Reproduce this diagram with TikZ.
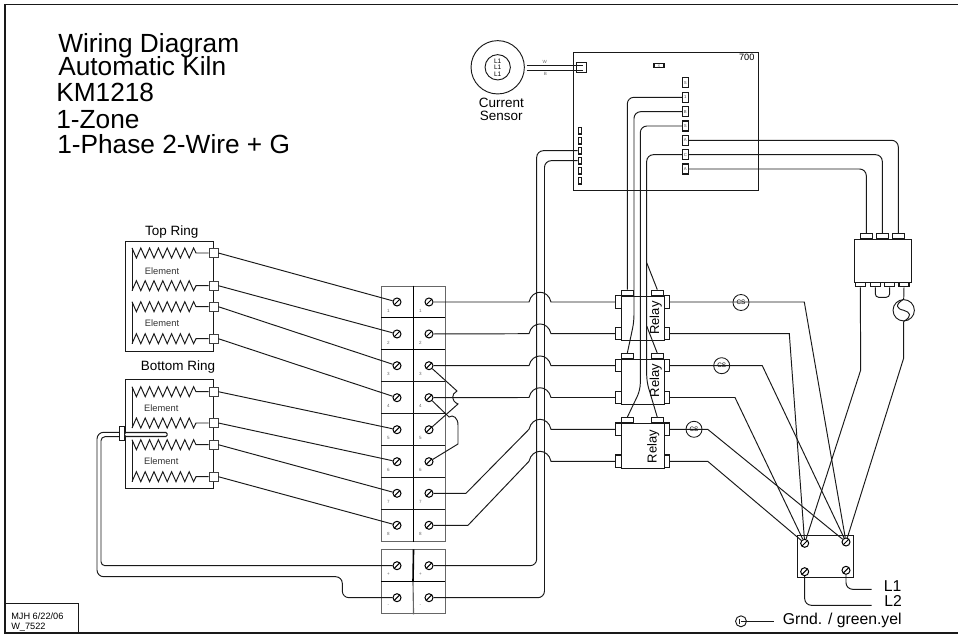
\documentclass[tikz,border=0pt]{standalone}
\usepackage{fontspec}
\setmainfont{Liberation Sans}
\usepackage{xparse}
\usetikzlibrary{calc,positioning}

\begin{document}
\begin{tikzpicture}[x=0.75pt,y=-0.75pt]

  % Parameters
  \def\xcoil{132}
  \def\xhop{529}
  \def\xhopend{551}

  % Styles
  \tikzstyle{wire}=[line width=0.72pt,black!90]
  \tikzstyle{edge}=[line width=0.85pt,black!90]
  \tikzstyle{box}=[draw=black!90,line width=0.8pt,inner sep=0pt]
  \tikzstyle{padbox}=[box,fill=white]
  \tikzstyle{coilpad}=[padbox,draw=black!75,line width=0.6pt,minimum width=6.6pt,minimum height=6.6pt]
  \tikzstyle{sidepad}=[padbox,minimum width=4pt,minimum height=9.4pt]
  \tikzstyle{toppad}=[padbox,anchor=south,minimum width=9.2pt,minimum height=3.75pt]
  \tikzstyle{conn}=[padbox,minimum width=4.2pt,minimum height=7.5pt,font=\fontsize{3.2}{3.2}\selectfont,text=black!70]
  \tikzstyle{lconn}=[padbox,minimum width=2.6pt,minimum height=5pt]
  \tikzstyle{screw}=[circle,draw=black,line width=0.75pt,fill=white,inner sep=0pt,minimum size=6pt,
    path picture={\draw[line width=0.75pt,black] (path picture bounding box.south west) -- (path picture bounding box.north east);}]
  \tikzstyle{tiny}=[inner sep=0pt,text=black!60,font=\fontsize{3.4}{3.4}\selectfont]
  \tikzstyle{csring}=[circle,draw=black!90,line width=0.65pt,inner sep=0pt,minimum size=12pt,font=\fontsize{4.8}{4.8}\selectfont]
  \tikzstyle{heading}=[anchor=base west,inner sep=0pt,font=\fontsize{19.7}{19.7}\selectfont]
  \tikzstyle{label}=[inner sep=0pt,font=\fontsize{10.1}{9.6}\selectfont,align=center]
  \tikzstyle{small}=[inner sep=0pt,font=\fontsize{7}{7}\selectfont]
  \tikzstyle{mains}=[anchor=base west,inner sep=0pt,font=\fontsize{11.8}{11.8}\selectfont]

  % \coil{<pad>}{<y>}{<sign of first point>}
  \DeclareDocumentCommand \coil { m m m }{%
    \draw[wire] (\xcoil,{#2+#3*5}) \foreach \k in {1,...,14} { -- ({\xcoil+\k*4.4},{#2+#3*5*(1-2*mod(\k,2))}) } -- (196,#2) -- (#1.west);
  }

  % \hop{<y>}
  \def\hop#1{-- (\xhop,#1) .. controls (532,#1-13) and (548,#1-13) .. (\xhopend,#1)}

  % ===========================================================================

  \useasboundingbox (0,0) rectangle (958,634);

  % Sheet and stamp
  \draw[edge] (958,4.5) -- (5,4.5) -- (5,633) -- (958,633);
  \node[box,anchor=south west,minimum width=54.5pt,minimum height=21.5pt] (stamp) at (5,633) {};
  \node[anchor=base west,inner sep=0pt,align=left,font=\fontsize{6.9}{7.7}\selectfont] (stamp-txt) at (11,629.5) {MJH  6/22/06\\W\_7522};

  % Title
  \node[heading] (title-1) at (58,52.7) {Wiring Diagram};
  \node[heading] (title-2) at (58,76) {Automatic Kiln};
  \node[heading] (title-3) at (56,101.7) {KM1218};
  \node[heading] (title-4) at (56,129) {1-Zone};
  \node[heading] (title-5) at (57,153.3) {1-Phase 2-Wire + G};

  % Rings
  \node[box,anchor=north west,minimum width=66.4pt,minimum height=82.3pt] (ring-top) at (124.5,241) {};
  \node[box,anchor=north west,minimum width=66.4pt,minimum height=81.8pt] (ring-bot) at (124.5,379) {};
  \node[label] (ring-top-txt) at (171.7,231.7) {Top Ring};
  \node[label] (ring-bot-txt) at (178,366.7) {Bottom Ring};
  \foreach \n/\x/\y in {1/162/270.7,2/162/322.7,3/161.3/407.7,4/161.3/460.7}
    \node[small,text=black!80] (elem-\n) at (\x,\y) {Element};
  \foreach \n/\y in {1/253,2/285.7,3/306.7,4/338.7,5/391.7,6/423,7/444.7,8/476.7}
    \node[coilpad] (cp-\n) at (213.5,\y) {};
  \coil{cp-1}{253}{-1}
  \coil{cp-2}{285.7}{1}
  \coil{cp-3}{306.7}{-1}
  \coil{cp-4}{338.7}{1}
  \coil{cp-5}{391.7}{-1}
  \coil{cp-6}{423}{1}
  \coil{cp-7}{444.7}{-1}
  \coil{cp-8}{476.7}{1}
  \draw[wire] (\xcoil,248) -- (\xcoil,290.7);
  \draw[wire] (\xcoil,301.7) -- (\xcoil,343.7);
  \draw[wire] (\xcoil,386.7) -- (\xcoil,428);
  \draw[wire] (\xcoil,439.7) -- (\xcoil,481.7);

  % Terminal blocks
  \node[box,draw=black!60,anchor=north west,minimum width=48pt,minimum height=191.6pt] (block-a) at (381,285.7) {};
  \node[box,draw=black!60,anchor=north west,minimum width=48pt,minimum height=48pt] (block-b) at (381,549.3) {};
  \draw[line width=1.2pt] (block-a.north) -- (block-a.south);
  \draw[line width=1.2pt] (block-b.north) -- (413,581.7);
  \draw[edge,black!60] (413,581.7) -- (block-b.south);
  \foreach \y in {317.7,349.7}
    \draw[line width=1.1pt] (381,\y) -- (445,\y);
  \foreach \y in {381.7,413.5,445.5,477.5,509.5}
    \draw[wire] (381,\y) -- (445,\y);
  \draw[line width=1pt] (381,581.7) -- (445,581.7);
  \foreach \n/\y in {1/302,2/334,3/365.7,4/397.7,5/429.7,6/461.7,7/493.3,8/525.3,9/565.7,10/597.7} {
    \node[screw] (tb-l\n) at (397,\y) {};
    \node[screw] (tb-r\n) at (429,\y) {};
  }
  \foreach \n/\y/\t in {1/310.5/1,2/342.5/2,3/374/3,4/406/4,5/438/5,6/470/6,7/501.5/7,8/533.5/8,9/574/+,10/606/-} {
    \node[tiny] (num-l\n) at (388.5,\y) {\t};
    \node[tiny] (num-r\n) at (420.5,\y) {\t};
  }

  % Ring to block
  \foreach \n in {1,...,8}
    \draw[wire] (cp-\n.east) -- (tb-l\n);

  % Links on the block
  \draw[wire] (tb-r3) -- (457,391) .. controls (451,394) and (451,401) .. (458,404) -- (tb-r5);
  \draw[wire] (tb-r4) -- (449,417) .. controls (453,414) and (458,418) .. (458,425) -- (458,444) -- (tb-r6);

  % Control board
  \node[box,anchor=north west,minimum width=138.3pt,minimum height=103.8pt] (board) at (573.3,51.7) {};
  \node[inner sep=0pt,font=\fontsize{6.9}{6.9}\selectfont] (board-txt) at (746.7,57.7) {700};
  \node[padbox,minimum width=7.5pt,minimum height=3pt,font=\fontsize{3}{3}\selectfont,text=black!60] (board-x) at (659,65.7) {X};
  \foreach \n/\y/\t in {1/82.7/S,2/97.3/1,3/111.7/B,4/126/S,5/140.3/A,6/154.7/C,7/169/A}
    \node[conn] (conn-\n) at (685.3,\y) {\t};
  \foreach \n/\y in {1/130.7,2/140.7,3/150.7,4/160.7,5/170.7,6/180.7}
    \node[lconn] (lconn-\n) at (580,\y) {};

  % Current sensor
  \node[circle,draw=black!90,line width=0.7pt,minimum size=40pt,inner sep=0pt] (sensor) at (497.7,67.3) {};
  \node[circle,draw=black!90,line width=0.7pt,minimum size=19pt,inner sep=0pt,align=center,font=\fontsize{4.9}{4.9}\selectfont] (sensor-in) at (497.7,67.3) {L1\\L1\\L1};
  \node[label] (sensor-txt) at (501.3,109.5) {Current\\Sensor};
  \node[padbox,minimum width=7.5pt,minimum height=7.5pt] (sensor-conn) at (581.7,67.7) {};
  \draw[wire] (526.7,65) -- (583,65);
  \draw[wire] (526.7,70) -- (583,70);
  \node[tiny] (sensor-w) at (544.7,62) {W};
  \node[tiny] (sensor-b) at (545.5,73.5) {B};

  % Relays
  \foreach \n/\y/\x/\yt in {1/295.7/655.7/318,2/359.3/655.7/380.7,3/423.3/653.3/446.7} {
    \node[box,anchor=north west,minimum width=32.25pt,minimum height=33.2pt] (relay-\n) at (621,\y) {};
    \node[toppad] (ptl-\n) at (627.3,\y) {};
    \node[toppad] (ptr-\n) at (657.3,\y) {};
    \node[inner sep=0pt,rotate=90,font=\fontsize{9.75}{9.75}\selectfont] (relay-txt-\n) at (\x,\yt) {Relay};
  }
  \foreach \n/\y in {1/302,2/333.7,3/365.7,4/397.5,5/429.3,6/461.3} {
    \node[sidepad] (padl-\n) at (618.6,\y) {};
    \node[sidepad] (padr-\n) at (666.7,\y) {};
  }

  % Block to relay
  \foreach \n/\y in {1/302,2/333.7,3/365.7,4/397.5}
    \draw[wire] (tb-r\n) \hop{\y} -- (padl-\n.west);
  \draw[wire] (tb-r7) -- (466,493.3) -- (\xhop,429.3) .. controls (532,416) and (548,416) .. (\xhopend,429.3) -- (padl-5.west);
  \draw[wire] (tb-r8) -- (468,525.3) -- (\xhop,461.3) .. controls (532,448) and (548,448) .. (\xhopend,461.3) -- (padl-6.west);

  % Board to block
  \draw[wire,rounded corners=5pt] (lconn-3.west) -| (536.7,565.7) -- (tb-r9);
  \draw[wire,rounded corners=5pt] (lconn-4.west) -| (544.5,597.7) -- (tb-r10);

  % Board to relay
  \coordinate (tap-1) at (646.7,262.7);
  \coordinate (tap-2) at (646.7,326);
  \draw[wire,rounded corners=5pt] (conn-2.west) -| (ptl-1.north);
  \draw[wire] [rounded corners=5pt] (conn-3.west) -| (634,321.7) [sharp corners] -- (ptl-2.north);
  \draw[wire] [rounded corners=5pt] (conn-4.west) -| (640.3,390) [sharp corners] -- (ptl-3.north);
  \draw[wire] [rounded corners=5pt] (conn-6.west) -| (646.7,381.7) [sharp corners] -- (ptr-3.north);
  \draw[wire] (tap-1) -- (ptr-1.north);
  \draw[wire] (tap-2) -- (ptr-2.north);

  % Contactor
  \node[box,anchor=north west,minimum width=42.8pt,minimum height=32pt] (contactor) at (853.7,239) {};
  \foreach \n/\x in {1/866.3,2/882.3,3/898.3}
    \node[toppad] (cto-\n) at (\x,239) {};
  \foreach \n/\x in {1/860.3,2/875.3,3/889.6,4/904} 
    \node[padbox,anchor=north,minimum width=7.5pt,minimum height=3.4pt] (cbo-\n) at (\x,281.7) {};
  \draw[wire,rounded corners=5pt] (conn-5.east) -| (cto-3.north);
  \draw[wire,rounded corners=5pt] (conn-6.east) -| (cto-2.north);
  \draw[wire,rounded corners=5pt] (conn-7.east) -| (cto-1.north);
  \draw[wire,rounded corners=2.5pt] (cbo-2.south) -- (875.3,297.3) -- (889.6,297.3) -- (cbo-3.south);

  % Solenoid
  \node[circle,draw=black!90,line width=0.7pt,minimum size=16pt,inner sep=0pt] (coil-ac) at (903.7,310.3) {};
  \draw[wire] (coil-ac.north) .. controls (894,305) and (897,309) .. (coil-ac.center) .. controls (910,312) and (913,316) .. (coil-ac.south);
  \draw[wire] (cbo-4.south) -- (coil-ac.north);

  % Current rings
  \node[csring] (cs-1) at (741,302.5) {CS};
  \node[csring] (cs-2) at (721.7,365.7) {CS};
  \node[csring] (cs-3) at (694,429.3) {CS};

  % Mains terminal
  \node[box,anchor=north west,minimum width=42.5pt,minimum height=31.7pt] (mains) at (796.7,535) {};
  \node[screw] (trm-ul) at (804.7,543.3) {};
  \node[screw] (trm-ur) at (846,542) {};
  \node[screw] (trm-ll) at (804.7,571.7) {};
  \node[screw] (trm-lr) at (846,570.3) {};

  % Relay and contactor to terminal
  \draw[wire] (padr-1.east) -- (804.3,302) -- (trm-ur);
  \draw[wire] (padr-2.east) -- (789.3,333.7) -- (trm-ul);
  \draw[wire] (padr-3.east) -- (762.3,365.7) -- (trm-ur);
  \draw[wire] (padr-4.east) -- (735,397.5) -- (trm-ul);
  \draw[wire] (padr-5.east) -- (707.7,429.3) -- (trm-ur);
  \draw[wire] (padr-6.east) -- (707.7,461.3) -- (trm-ul);
  \draw[wire] (cbo-1.south) -- (860.7,370) -- (trm-ul);
  \draw[wire] (coil-ac.south) -- (903.7,358) -- (trm-ur);

  % Supply
  \node[mains] (lbl-l1) at (883.5,592) {L1};
  \node[mains] (lbl-l2) at (884,607) {L2};
  \coordinate (end-l1) at (871.7,589.3);
  \coordinate (end-l2) at (871.7,605.3);
  \draw[wire,rounded corners=5pt] (trm-lr.south) |- (end-l1);
  \draw[wire,rounded corners=5pt] (trm-ll.south) |- (end-l2);

  % Ground
  \node[circle,draw=black!90,line width=0.7pt,minimum size=8.2pt,inner sep=0pt] (gnd) at (741,621.3) {};
  \draw[wire] (gnd.center) -- (774.3,621.3);
  \draw[wire] (739.5,618.8) -- (739.5,623.8);
  \node[mains] (gnd-txt) at (782.7,624.5) {Grnd. / green.yel};

  % Thermocouple
  \coordinate (tc-a) at (119.3,432.3);
  \coordinate (tc-b) at (119.3,436.7);
  \draw[wire,rounded corners=5pt] (tc-a) -- (97,432.3) -- (97,576.7) -- (342.3,576.7) -- (342.3,597.7) -- (tb-l10);
  \draw[wire,rounded corners=3pt] (tc-b) -- (101,436.7) -- (101,565.7) -- (tb-l9);
  \node[padbox,anchor=west,minimum width=32pt,minimum height=3pt,rounded corners=1pt] (tc-probe) at (124,434.5) {};
  \node[padbox,minimum width=3.75pt,minimum height=10.5pt] (tc-collar) at (121.8,433.7) {};

\end{tikzpicture}
\end{document}
